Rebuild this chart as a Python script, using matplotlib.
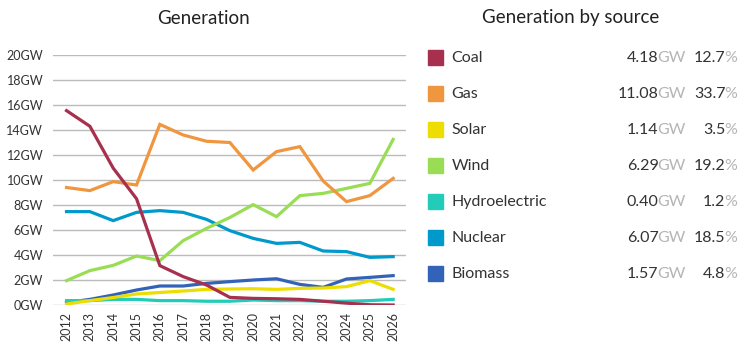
import matplotlib
matplotlib.use("Agg")
import matplotlib.pyplot as plt

plt.rcParams['font.family'] = ['Lato', 'DejaVu Sans']

years = list(range(2012, 2027))
coal = [15.55, 14.3, 10.95, 8.5, 3.15, 2.27, 1.6, 0.61, 0.53, 0.5, 0.45, 0.3, 0.15, 0.02, 0.0]
gas = [9.4, 9.15, 9.87, 9.6, 14.45, 13.6, 13.1, 13.0, 10.8, 12.27, 12.67, 9.92, 8.27, 8.75, 10.13]
solar = [0.08, 0.35, 0.6, 0.88, 1.0, 1.12, 1.25, 1.28, 1.3, 1.25, 1.33, 1.36, 1.47, 1.95, 1.25]
wind = [1.95, 2.75, 3.17, 3.92, 3.55, 5.15, 6.13, 7.0, 8.03, 7.07, 8.75, 8.93, 9.33, 9.73, 13.25]
hydro = [0.35, 0.35, 0.45, 0.45, 0.35, 0.35, 0.3, 0.3, 0.4, 0.35, 0.35, 0.3, 0.3, 0.35, 0.45]
nuclear = [7.47, 7.47, 6.75, 7.41, 7.55, 7.41, 6.85, 5.95, 5.33, 4.93, 5.01, 4.32, 4.27, 3.81, 3.87]
biomass = [0.2, 0.45, 0.8, 1.2, 1.52, 1.52, 1.73, 1.87, 2.0, 2.1, 1.65, 1.41, 2.08, 2.21, 2.35]

sources = ['Coal', 'Gas', 'Solar', 'Wind', 'Hydroelectric', 'Nuclear', 'Biomass']
series = [coal, gas, solar, wind, hydro, nuclear, biomass]
colors = ['#a8304f', '#f0963f', '#eedd00', '#99dd55', '#22ccb8', '#0099cc', '#3363b8']
gw_values = ['4.18', '11.08', '1.14', '6.29', '0.40', '6.07', '1.57']
pct_values = ['12.7', '33.7', '3.5', '19.2', '1.2', '18.5', '4.8']
y_ticks = [0, 2, 4, 6, 8, 10, 12, 14, 16, 18, 20]
y_tick_labels = [f'{v}GW' for v in y_ticks]

W, H = 755, 354
fig = plt.figure(figsize=(W / 100, H / 100), dpi=100)
ax = fig.add_axes([53 / W, 1 - 305 / H, (406 - 53) / W, 250 / H])

for vals, col in reversed(list(zip(series, colors))):
    ax.plot(years, vals, color=col, lw=2.3, solid_joinstyle='miter', zorder=3)

ax.set_xlim(2011.42, 2026.55)
ax.set_ylim(0, 20)
ax.set_yticks(y_ticks)
ax.set_yticklabels(y_tick_labels)
ax.set_xticks(years)
ax.set_xticklabels([str(y) for y in years], rotation=90)
ax.grid(axis='y', color='#bbbbbb', lw=1)
ax.set_axisbelow(True)
for s in ax.spines.values():
    s.set_visible(False)
ax.tick_params(axis='both', length=0, labelsize=9, colors='#333333')
ax.tick_params(axis='y', pad=7)
ax.tick_params(axis='x', pad=5)

fig.text(203 / W, 1 - 18 / H, 'Generation', ha='center', va='center', fontsize=13.5, color='#222222')
fig.text(571 / W, 1 - 18 / H, 'Generation by source', ha='center', va='center', fontsize=13.5, color='#222222')

row_y0 = 57.7
row_dy = 36
for i, (name, col, gw, pct) in enumerate(zip(sources, colors, gw_values, pct_values)):
    yc = row_y0 + i * row_dy
    fig.patches.append(plt.Rectangle((428 / W, 1 - (yc + 7.5) / H), 15 / W, 15 / H,
                                     transform=fig.transFigure, color=col, figure=fig))
    fig.text(451.5 / W, 1 - yc / H, name, ha='left', va='center', fontsize=11.5, color='#333333')
    fig.text(658.5 / W, 1 - yc / H, gw, ha='right', va='center', fontsize=11.5, color='#333333')
    fig.text(657.5 / W, 1 - yc / H, 'GW', ha='left', va='center', fontsize=11.5, color='#b5b5b5')
    fig.text(725.5 / W, 1 - yc / H, pct, ha='right', va='center', fontsize=11.5, color='#333333')
    fig.text(724.5 / W, 1 - yc / H, '%', ha='left', va='center', fontsize=11.5, color='#b5b5b5')

fig.savefig('out.png', dpi=100)
